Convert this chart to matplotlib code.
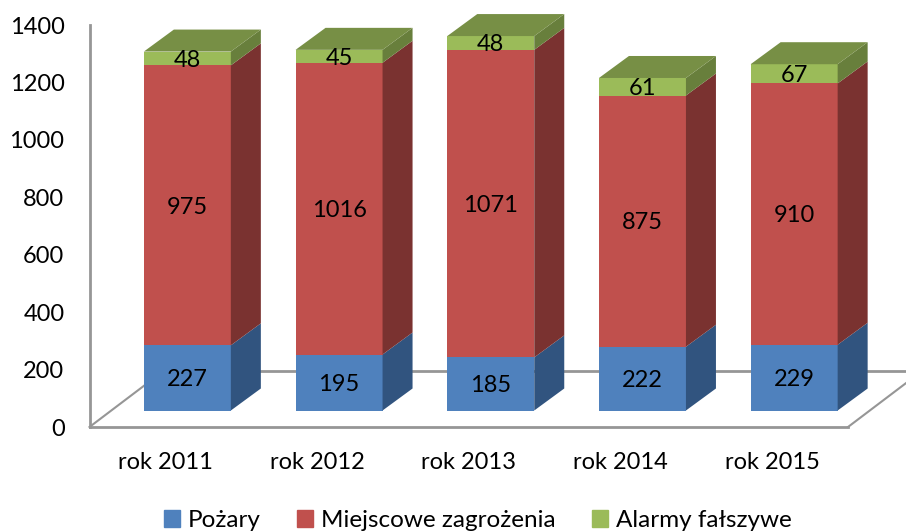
import matplotlib
matplotlib.use('Agg')
import matplotlib.pyplot as plt
from matplotlib.patches import Patch
import numpy as np

# Dane
lata = ['rok 2011', 'rok 2012', 'rok 2013', 'rok 2014', 'rok 2015']
pozary = [227, 195, 185, 222, 229]
miejscowe = [975, 1016, 1071, 875, 910]
alarmy = [48, 45, 48, 61, 67]
nazwy = ['Pożary', 'Miejscowe zagrożenia', 'Alarmy fałszywe']

kolory = ['#4F81BD', '#C0504D', '#9BBB59']
boki = ['#31547F', '#7A3230', '#687F3C']
gora = '#778F45'
szary = '#969696'

plt.rcParams['font.family'] = ['Lato', 'DejaVu Sans']
W, H = 906, 531
fig = plt.figure(figsize=(W / 100, H / 100), dpi=100)
ax = fig.add_axes([89.5 / W, 1 - 427 / H, 758.5 / W, 402 / H])
ax.set_xlim(-0.5, 4.5)
ax.set_ylim(0, 1400)

# Przeliczenie pikseli na jednostki osi
px_x = 5 / 758.5
px_y = 1400 / 402
dx = 30 * px_x
dy = 22 * px_y
podstawa = 16.5 * px_y
szer = 87 * px_x
przesun = 22 * px_x

for s in ['top', 'right']:
    ax.spines[s].set_visible(False)
for s in ['left', 'bottom']:
    ax.spines[s].set_color(szary)
    ax.spines[s].set_linewidth(2)

# Podloga wykresu 3D
ax.plot([-0.5, -0.5 + 74 * px_x], [0, 56 * px_y], color=szary, lw=1.5, clip_on=False, zorder=1)
ax.plot([-0.5 + 74 * px_x, -0.5 + 817 * px_x], [56 * px_y, 56 * px_y], color=szary, lw=2, clip_on=False, zorder=1)
ax.plot([4.5, 4.5 + 74 * px_x], [0, 56 * px_y], color=szary, lw=1.5, clip_on=False, zorder=1)

x = np.arange(len(lata))
xs = x + przesun
serie = [pozary, miejscowe, alarmy]
dol = np.full(len(lata), podstawa)
for wart, kol, bok in zip(serie, kolory, boki):
    wart = np.array(wart)
    ax.bar(xs, wart, szer, bottom=dol, color=kol, zorder=3, clip_on=False)
    for xi, d, v in zip(xs, dol, wart):
        p = xi + szer / 2
        ax.fill([p, p + dx, p + dx, p], [d, d + dy, d + v + dy, d + v], color=bok, lw=0, zorder=3, clip_on=False)
        ax.text(xi, d + v / 2 - 6, str(v), ha='center', va='center', fontsize=17, color='black', zorder=5)
    dol = dol + wart

# Gorna sciana slupka
for xi, d in zip(xs, dol):
    l = xi - szer / 2
    p = xi + szer / 2
    ax.fill([l, p, p + dx, l + dx], [d, d, d + dy, d + dy], color=gora, lw=0, zorder=3, clip_on=False)

ax.set_xticks(x)
ax.set_xticklabels(lata)
ax.set_yticks(np.arange(0, 1401, 200))
ax.tick_params(length=0, labelsize=17, colors='black')
ax.tick_params(axis='x', pad=18)
ax.tick_params(axis='y', pad=18)

uchwyty = [Patch(color=k) for k in kolory]
fig.legend(uchwyty, nazwy, loc='lower center', bbox_to_anchor=(0.527, 0.0), ncol=3, frameon=False,
           fontsize=17.5, handlelength=0.68, handleheight=0.68, handletextpad=0.3, columnspacing=1.5,
           borderpad=0, borderaxespad=0)

fig.savefig('out.png', dpi=100)
